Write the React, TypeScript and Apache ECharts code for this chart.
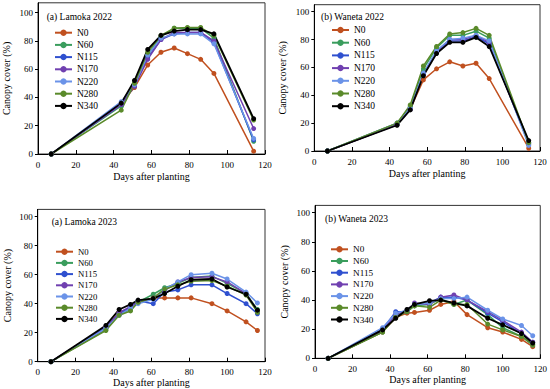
import React, { useEffect, useRef } from 'react';
import * as echarts from 'echarts';

const treatments = ['N0', 'N60', 'N115', 'N170', 'N220', 'N280', 'N340'];
const seriesColors = ['#c0501f', '#3a9d5d', '#2f50cf', '#7040b0', '#6b93e8', '#5a8a2a', '#000000'];

const days2022 = [7, 44, 51, 58, 65, 72, 79, 86, 93, 114];
const days2023 = [7, 36, 43, 49, 53, 61, 67, 74, 81, 92, 100, 110, 116];

const yTickValues = [0, 20, 40, 60, 80, 100];

// rows follow `treatments` order
const lamoka2022 = [
  [0, 36, 47, 63, 72, 75, 71, 67, 57, 2],
  [0, 34, 50, 70, 83, 89, 89, 89, 82, 9],
  [0, 35, 48, 68, 81, 85, 86, 86, 79, 10],
  [0, 35, 48, 67, 81, 86, 86, 86, 80, 18],
  [0, 37, 49, 70, 82, 85, 85, 85, 78, 11],
  [0, 31, 50, 72, 84, 89, 89.5, 89.5, 84, 24],
  [0, 36, 52, 74, 84, 87, 88, 88, 85, 25],
];

const waneta2022 = [
  [0, 19, 30, 51, 59, 64, 61, 63, 52, 2],
  [0, 20, 32, 59, 74, 83, 83, 86, 81, 5],
  [0, 19, 30, 55, 71, 79, 79, 82, 77, 6],
  [0, 19, 30, 55, 71, 80, 80, 83, 78, 5],
  [0, 20, 31, 56, 72, 80, 81, 83, 79, 4],
  [0, 20, 33, 61, 75, 84, 85, 88, 83, 6],
  [0, 18.5, 29.5, 54, 70, 78, 78, 81.5, 75, 7.5],
];

const lamoka2023 = [
  [0, 24, 34, 37, 41, 44, 44, 44, 44, 40, 35, 27.5, 21.5],
  [0, 22, 33, 36, 41, 46.5, 51, 54, 58, 59, 54, 47, 36],
  [0, 24, 33, 38, 42, 40, 48, 49.5, 53, 53, 47, 40, 33],
  [0, 23, 34, 38, 41, 44, 49, 55, 58, 58.5, 55, 47, 35],
  [0, 23, 32, 37, 40, 43, 50, 55, 60, 61, 57, 48, 40.5],
  [0, 21.5, 32, 35, 41, 44, 50, 53, 55.5, 56, 52, 46, 34],
  [0, 25, 36, 39.5, 42.5, 43.5, 47, 52, 56.5, 57, 51.5, 46.5, 35.5],
];

const waneta2023 = [
  [0, 18, 28, 31, 31.5, 33, 37, 39, 30, 21, 18, 13, 8],
  [0, 18, 29, 32, 36, 37, 41, 37, 40, 30, 21, 15, 9],
  [0, 20, 32, 32, 37, 38, 42, 42, 40, 31, 25, 17, 11],
  [0, 19, 30, 33, 38, 37, 42, 43.5, 40, 32, 26, 18, 11],
  [0, 21, 31, 33, 37, 38, 41, 41, 42, 33, 27, 22.5, 15.5],
  [0, 18, 28, 32, 36, 35, 40, 37, 37, 23.5, 19.5, 15, 9.5],
  [0, 19.5, 27.5, 33.5, 37, 39.5, 40, 38, 36, 27.5, 23, 17, 10.5],
];

const panelTitles = ['(a) Lamoka 2022', '(b) Waneta 2022', '(a) Lamoka 2023', '(b) Waneta 2023'];

const FONT = "'Liberation Serif', 'Times New Roman', serif";

export default function App() {
  const ref = useRef<HTMLDivElement>(null);

  useEffect(() => {
    if (!ref.current) return;
    const chart = echarts.init(ref.current, null, { renderer: 'svg' });

    const panels = [
      {
        days: days2022, values: lamoka2022, yMax: 107,
        grid: { left: 37.7, top: 2.8, width: 227.3, height: 151.2 },
        title: [46.7, 16.7], titleSize: 9.5,
        legend: { left: 54, top: 27.7, gap: 2.2, lh: 10, fs: 9.5 },
        yNameGap: 27, xNameGap: 17.5,
      },
      {
        days: days2022, values: waneta2022, yMax: 105,
        grid: { left: 314.3, top: 4.7, width: 225.7, height: 146.3 },
        title: [321, 17], titleSize: 9.5,
        legend: { left: 331, top: 25, gap: 2.7, lh: 10, fs: 9.5 },
        yNameGap: 26.5, xNameGap: 17.5,
      },
      {
        days: days2023, values: lamoka2023, yMax: 105,
        grid: { left: 37.7, top: 209.4, width: 227.3, height: 152.3 },
        title: [51.7, 221.7], titleSize: 9.5,
        legend: { left: 55, top: 247.2, gap: 2.2, lh: 9, fs: 8.7 },
        yNameGap: 25, xNameGap: 14.5,
      },
      {
        days: days2023, values: waneta2023, yMax: 105,
        grid: { left: 315, top: 205.4, width: 226.7, height: 152.9 },
        title: [325, 219], titleSize: 9.5,
        legend: { left: 330, top: 244.8, gap: 2.7, lh: 9, fs: 9.2 },
        yNameGap: 25.5, xNameGap: 16,
      },
    ];

    const option: any = {
      animation: false,
      backgroundColor: '#ffffff',
      textStyle: { fontFamily: FONT },
      grid: panels.map((p) => ({
        ...p.grid,
        show: true,
        borderColor: '#333',
        borderWidth: 1,
        backgroundColor: 'transparent',
        containLabel: false,
      })),
      xAxis: panels.map((p, i) => ({
        type: 'value',
        gridIndex: i,
        min: 0,
        max: 120,
        interval: 20,
        name: 'Days after planting',
        nameLocation: 'middle',
        nameGap: p.xNameGap,
        nameTextStyle: { fontFamily: FONT, fontSize: 10, color: '#000' },
        axisLine: { show: true, onZero: false, lineStyle: { color: '#000', width: 1 } },
        axisTick: { show: true, inside: true, length: 4, lineStyle: { color: '#000' } },
        axisLabel: { fontFamily: FONT, fontSize: 9, color: '#000', margin: 6 },
        splitLine: { show: false },
      })),
      yAxis: panels.map((p, i) => ({
        type: 'value',
        gridIndex: i,
        min: 0,
        max: p.yMax,
        interval: 20,
        name: 'Canopy cover (%)',
        nameLocation: 'middle',
        nameGap: p.yNameGap,
        nameTextStyle: { fontFamily: FONT, fontSize: 10, color: '#000' },
        axisLine: { show: true, onZero: false, lineStyle: { color: '#000', width: 1 } },
        axisTick: { show: true, inside: false, length: 3, customValues: yTickValues, lineStyle: { color: '#000' } },
        axisLabel: { fontFamily: FONT, fontSize: 9, color: '#000', margin: 5, customValues: yTickValues },
        splitLine: { show: false },
      })),
      legend: panels.map((p) => ({
        data: treatments,
        orient: 'vertical',
        left: p.legend.left,
        top: p.legend.top,
        padding: 0,
        itemGap: p.legend.gap,
        itemWidth: 17,
        itemHeight: 8,
        selectedMode: false,
        textStyle: { fontFamily: FONT, fontSize: p.legend.fs, lineHeight: p.legend.lh, color: '#000' },
      })),
      graphic: panels.map((p, i) => ({
        type: 'text',
        x: p.title[0],
        y: p.title[1],
        style: {
          text: panelTitles[i],
          fontFamily: FONT,
          fontSize: p.titleSize,
          fill: '#000',
          verticalAlign: 'middle',
        },
      })),
      series: panels.flatMap((p, i) =>
        treatments.map((name, k) => ({
          type: 'line',
          name,
          xAxisIndex: i,
          yAxisIndex: i,
          data: p.days.map((d, j) => [d, p.values[k][j]]),
          symbol: 'circle',
          symbolSize: 5,
          lineStyle: { color: seriesColors[k], width: k === 6 ? 1.8 : 1.5 },
          itemStyle: { color: seriesColors[k] },
          emphasis: { disabled: true },
        }))
      ),
    };

    chart.setOption(option);
    return () => chart.dispose();
  }, []);

  return (
    <div
      ref={ref}
      style={{ position: 'fixed', left: 0, top: 0, width: 550, height: 389, background: '#fff' }}
    />
  );
}
